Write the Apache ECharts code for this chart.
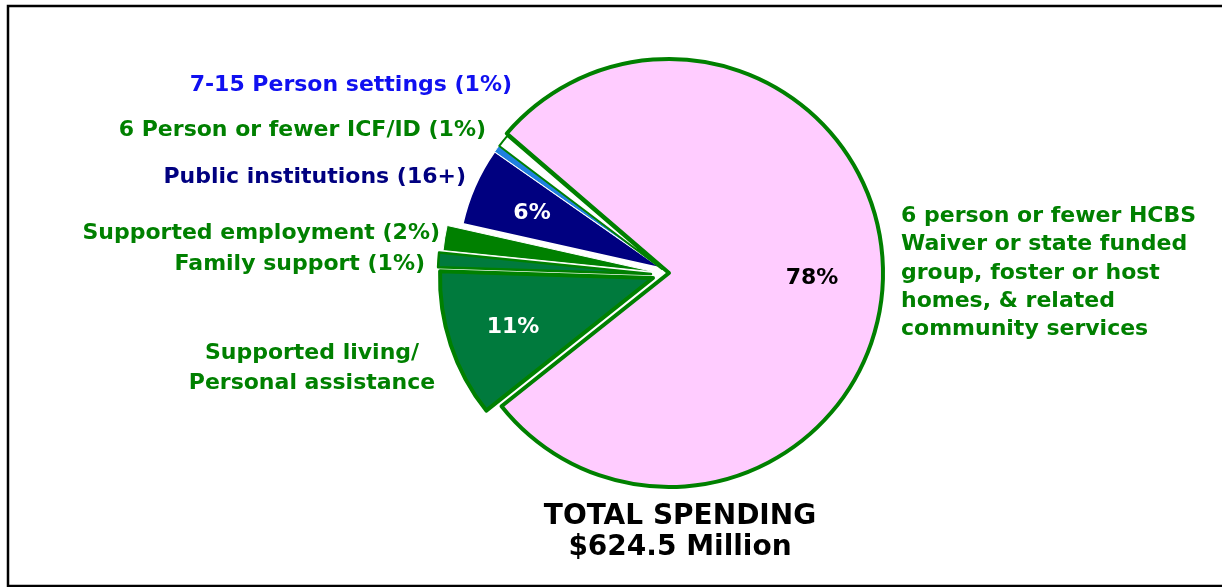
<!DOCTYPE html>
<html><head><meta charset="utf-8">
<script src="https://cdn.jsdelivr.net/npm/echarts@6/dist/echarts.min.js"></script>
<style>html,body{margin:0;padding:0;background:#fff}#c{width:1222px;height:587px}</style>
</head><body><div id="c"></div>
<script>
// ---- data ----
const categories = [
  '6 person or fewer HCBS\nWaiver or state funded\ngroup, foster or host\nhomes, & related\ncommunity services',
  'Supported living/\nPersonal assistance',
  'Family support (1%)',
  'Supported employment (2%)',
  'Public institutions (16+)',
  '7-15 Person settings (1%)',
  '6 Person or fewer ICF/ID (1%)'
];
const shares = [78.0, 11.2, 1.1, 1.9, 6.2, 0.6, 1.0];
const shareLabels = ['78%', '11%', '', '', '6%', '', ''];
const totalLines = ['TOTAL SPENDING', '$624.5 Million'];

// ---- layout / style ----
const FONT = 'DejaVu Sans';
const START = 139.3;
const slices = [
  {c:[669,273], r:214, fill:'#FFCCFF', border:'#008000', bw:4, pct:{x:812,y:278,color:'#000'}},
  {c:[653,278], r:213, fill:'#007A3D', border:'#008000', bw:4, pct:{x:513,y:327,color:'#fff'}},
  {c:[651,274], r:213, fill:'#007A3D', border:'#008000', bw:2.5},
  {c:[655,272], r:213, fill:'#008000', border:'#ffffff', bw:1},
  {c:[661,268], r:203, fill:'#000080', border:'#ffffff', bw:1.5, pct:{x:532,y:213,color:'#fff'}},
  {c:[661,268], r:203, fill:'#2080E0', border:'#ffffff', bw:1},
  {c:[662,269], r:204, fill:'#ffffff', border:'#008000', bw:2}
];
const drawOrder = [0, 4, 5, 3, 2, 1, 6];
const catLabelPos = [
  {x:901, y:273, align:'left', color:'#008000', lh:28.3},
  {x:312, y:368, align:'center', color:'#008000', lh:30},
  {x:425, y:264, align:'right', color:'#008000'},
  {x:440, y:233, align:'right', color:'#008000'},
  {x:466, y:177, align:'right', color:'#000080'},
  {x:512, y:85, align:'right', color:'#1010F0'},
  {x:486, y:130, align:'right', color:'#008000'}
];

const series = drawOrder.map(i => {
  const s = slices[i];
  return {
    type: 'pie',
    center: s.c,
    radius: s.r,
    startAngle: START,
    clockwise: true,
    silent: true,
    avoidLabelOverlap: false,
    emphasis: {disabled: true},
    labelLine: {show: false},
    label: {show: false},
    labelLayout: s.pct ? {x: s.pct.x, y: s.pct.y, align: 'center', verticalAlign: 'middle'} : undefined,
    data: shares.map((v, j) => ({
      value: v,
      name: categories[j],
      itemStyle: j === i
        ? {color: s.fill, borderColor: s.border, borderWidth: s.bw}
        : {color: 'rgba(0,0,0,0)', borderWidth: 0},
      label: (j === i && shareLabels[j])
        ? {show: true, position: 'inside', formatter: shareLabels[j], color: s.pct.color,
           fontSize: 22, fontWeight: 'bold', fontFamily: FONT}
        : {show: false}
    }))
  };
});

const graphics = [
  {type: 'rect', shape: {x: 8, y: 6, width: 1222, height: 580},
   style: {fill: 'none', stroke: '#000', lineWidth: 2.5}, silent: true}
];
categories.forEach((name, i) => {
  const p = catLabelPos[i];
  graphics.push({type: 'text', x: p.x, y: p.y, silent: true,
    style: {text: name, fill: p.color, align: p.align, verticalAlign: 'middle',
      fontSize: 22, fontWeight: 'bold', fontFamily: FONT, lineHeight: p.lh || 26}});
});
graphics.push({type: 'text', x: 680, y: 532.5, silent: true,
  style: {text: totalLines.join('\n'), fill: '#000', align: 'center', verticalAlign: 'middle',
    fontSize: 28, fontWeight: 'bold', fontFamily: FONT, lineHeight: 31}});

const chart = echarts.init(document.getElementById('c'), null, {renderer: 'canvas'});
chart.setOption({
  animation: false,
  backgroundColor: '#fff',
  series: series,
  graphic: graphics
});
</script>
</body></html>
